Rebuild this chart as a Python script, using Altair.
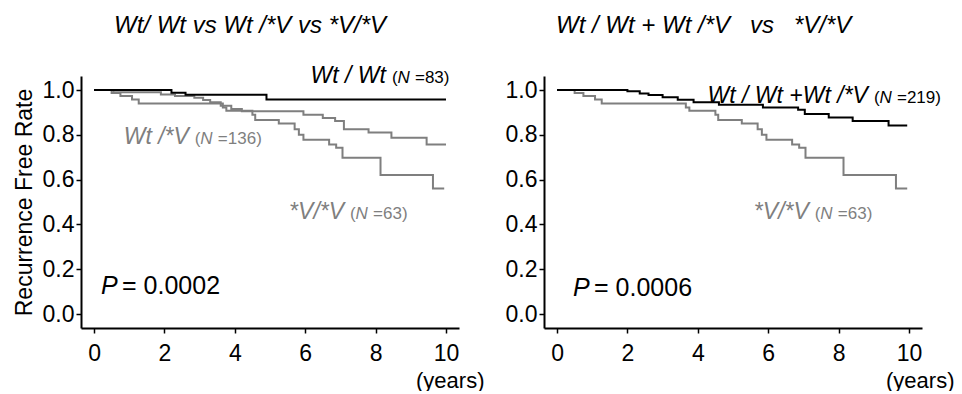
import altair as alt
import pandas as pd

# ---------------- Kaplan-Meier step points (years, recurrence-free rate) ----------------
# Left panel
wtwt_t = [0, 2.2, 2.6, 4.9, 10.0]
wtwt_s = [1.0, 0.988, 0.979, 0.958, 0.958]

wtv_t = [0, 0.55, 1.9, 2.3, 2.85, 3.1, 3.3, 3.6, 3.9, 4.2, 5.95, 6.5, 6.85, 7.1, 7.8, 8.45, 9.45, 10.0]
wtv_s = [1.0, 0.99, 0.98, 0.973, 0.965, 0.955, 0.945, 0.93, 0.915, 0.905, 0.89, 0.875, 0.862, 0.825,
         0.81, 0.787, 0.757, 0.757]

# *V/*V (same group in both panels)
vv_t = [0, 0.5, 0.75, 1.08, 1.27, 3.66, 3.76, 4.5, 4.58, 5.25, 5.7, 5.82, 5.95, 6.68, 6.88, 7.06,
        8.14, 9.63, 9.95]
vv_s = [1.0, 0.987, 0.973, 0.958, 0.94, 0.922, 0.907, 0.89, 0.866, 0.85, 0.825, 0.80, 0.778, 0.757,
        0.742, 0.698, 0.62, 0.56, 0.56]

# Right panel: Wt/Wt + Wt/*V
comb_t = [0, 2.0, 2.35, 2.6, 3.0, 3.43, 3.88, 4.6, 5.85, 6.85, 7.04, 7.72, 8.4, 9.42, 9.95]
comb_s = [1.0, 0.994, 0.984, 0.978, 0.968, 0.957, 0.945, 0.934, 0.922, 0.912, 0.893, 0.877, 0.862,
          0.842, 0.842]

group_names = ["*V/*V", "Wt/*V", "Wt/Wt", "Wt/Wt+Wt/*V"]

# ---------------- annotation texts ----------------
left_title = "Wt/ Wt vs Wt /*V vs *V/*V"
right_title = "Wt / Wt + Wt /*V\u00a0\u00a0\u00a0vs\u00a0\u00a0\u00a0*V/*V"

left_lab_main = ["Wt / Wt", "Wt /*V", "*V/*V"]
left_lab_n = ["=83)", "=136)", "=63)"]
left_lab_t = [8.38, 2.78, 7.19]
left_lab_s = [1.031, 0.759, 0.424]
left_lab_col = ["#000000", "#7f7f7f", "#7f7f7f"]

right_lab_main = ["Wt / Wt +Wt /*V", "*V/*V"]
right_lab_n = ["=219)", "=63)"]
right_lab_t = [8.92, 7.24]
right_lab_s = [0.942, 0.424]
right_lab_col = ["#000000", "#7f7f7f"]

p_vals = ["= 0.0002", "= 0.0006"]
p_t = [0.2, 0.456]
p_s = [0.089, 0.080]

x_ticks = [0, 2, 4, 6, 8, 10]
y_ticks = [0.0, 0.2, 0.4, 0.6, 0.8, 1.0]

FONT = "Liberation Sans"
GRAY = "#7f7f7f"
W, H = 378, 252
group_colors = [GRAY, GRAY, "#000000", "#000000"]
group_widths = [2, 2, 2.5, 2.5]


def curves_df(series):
    rows = []
    for name, ts, ss in series:
        for t, s in zip(ts, ss):
            rows.append({"t": t, "s": s, "g": name})
    return pd.DataFrame(rows)


def panel(series, lab_main, lab_n, lab_t, lab_s, lab_col, ptxt, pt, ps,
          title, title_dx, title_dy, ytitle, years_x):
    xenc = alt.X("t:Q",
                 scale=alt.Scale(domain=[-0.37, 10.37], nice=False, zero=False),
                 axis=alt.Axis(values=x_ticks, format="d", title="(years)", titleX=years_x,
                               titleY=59, titleAlign="right", titleBaseline="alphabetic",
                               labelPadding=9, titleFontSize=22))
    yenc = alt.Y("s:Q",
                 scale=alt.Scale(domain=[-0.0625, 1.0625], nice=False, zero=False),
                 axis=alt.Axis(values=y_ticks, format=".1f", title=ytitle, labelPadding=2,
                               titlePadding=6, titleFontSize=23))
    lines = alt.Chart(curves_df(series)).mark_line(interpolate="step-after").encode(
        x=xenc, y=yenc,
        color=alt.Color("g:N", scale=alt.Scale(domain=group_names, range=group_colors), legend=None),
        strokeWidth=alt.StrokeWidth("g:N", scale=alt.Scale(domain=group_names, range=group_widths),
                                    legend=None),
        order=alt.Order("t:Q"),
    )
    lab = pd.DataFrame({"t": lab_t, "s": lab_s, "m": lab_main, "n": lab_n, "c": lab_col,
                        "o": ["("] * len(lab_t), "N": ["N"] * len(lab_t)})
    main = alt.Chart(lab).mark_text(align="right", baseline="alphabetic", font=FONT, fontSize=23,
                                    fontStyle="italic", dx=-3).encode(
        x=xenc, y=yenc, text="m:N", color=alt.Color("c:N", scale=None))
    par = alt.Chart(lab).mark_text(align="left", baseline="alphabetic", font=FONT, fontSize=17,
                                   dx=3).encode(
        x=xenc, y=yenc, text="o:N", color=alt.Color("c:N", scale=None))
    nn = alt.Chart(lab).mark_text(align="left", baseline="alphabetic", font=FONT, fontSize=17,
                                  fontStyle="italic", dx=8.5).encode(
        x=xenc, y=yenc, text="N:N", color=alt.Color("c:N", scale=None))
    rest = alt.Chart(lab).mark_text(align="left", baseline="alphabetic", font=FONT, fontSize=17,
                                    dx=26).encode(
        x=xenc, y=yenc, text="n:N", color=alt.Color("c:N", scale=None))
    pdf = pd.DataFrame({"t": [pt], "s": [ps], "p": ["P"], "v": [ptxt]})
    pp = alt.Chart(pdf).mark_text(align="left", baseline="alphabetic", font=FONT, fontSize=25,
                                  fontStyle="italic", color="black").encode(
        x=xenc, y=yenc, text="p:N")
    pv = alt.Chart(pdf).mark_text(align="left", baseline="alphabetic", font=FONT, fontSize=25,
                                  color="black", dx=21).encode(
        x=xenc, y=yenc, text="v:N")
    return alt.layer(lines, main, par, nn, rest, pp, pv).properties(
        width=W, height=H,
        title=alt.TitleParams(title, anchor="start", frame="group", dx=title_dx, dy=title_dy,
                              offset=27, font=FONT, fontSize=24, fontStyle="italic",
                              fontWeight="normal", color="black"))


left = panel([("*V/*V", vv_t, vv_s), ("Wt/*V", wtv_t, wtv_s), ("Wt/Wt", wtwt_t, wtwt_s)],
             left_lab_main, left_lab_n, left_lab_t, left_lab_s, left_lab_col,
             p_vals[0], p_t[0], p_s[0], left_title, 33, 0, "Recurrence Free Rate", 403)
right = panel([("*V/*V", vv_t, vv_s), ("Wt/Wt+Wt/*V", comb_t, comb_s)],
              right_lab_main, right_lab_n, right_lab_t, right_lab_s, right_lab_col,
              p_vals[1], p_t[1], p_s[1], right_title, 12, -11, "", 410)

chart = alt.hconcat(left, right, spacing=85, bounds="flush").properties(
    padding={"left": 5, "top": 6, "right": 0, "bottom": 0}
).configure_axis(
    domainColor="black", domainWidth=2, tickColor="black", tickWidth=1.5, tickSize=5,
    labelColor="black", labelFont=FONT, labelFontSize=23, titleFont=FONT, titleFontSize=22,
    titleFontWeight="normal", titleColor="black", grid=False
).configure_view(stroke=None)

chart.save("out.html", embed_options={"renderer": "svg", "actions": False})
